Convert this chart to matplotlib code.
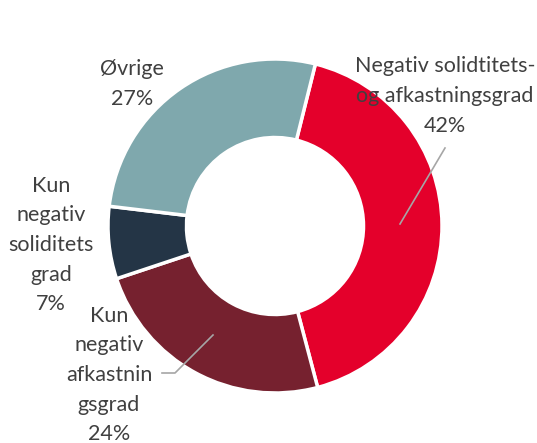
import matplotlib.pyplot as plt

# Andele af virksomheder
labels = ["Negativ solidtitets-\nog afkastningsgrad\n42%",
          "Kun\nnegativ\nafkastnin\ngsgrad\n24%",
          "Kun\nnegativ\nsoliditets\ngrad\n7%",
          "Øvrige\n27%"]
values = [42, 24, 7, 27]
colors = ["#E4002B", "#76212F", "#243546", "#7FA8AD"]

plt.rcParams['font.family'] = ['Lato', 'DejaVu Sans']

fig = plt.figure(figsize=(5.37, 4.43), dpi=100)
ax = fig.add_axes([0, 0, 1, 1])

H = 443
cx, cy, r = 275, H - 226, 167
ax.pie(values, colors=colors, startangle=76, counterclock=False,
       center=(cx, cy), radius=r, frame=True,
       wedgeprops=dict(width=r * 0.47, edgecolor='white', linewidth=2.5))
ax.set_xlim(0, 537)
ax.set_ylim(0, 443)
ax.axis('off')

txt = dict(fontsize=15.5, color='#404040', ha='center', va='center', linespacing=1.6)
ax.text(445, H - 96, labels[0], **txt)
ax.text(109, H - 375, labels[1], **txt)
ax.text(51, H - 245, labels[2], **txt)
ax.text(132, H - 84, labels[3], **txt)

# Ledelinjer
ax.plot([445, 400], [H - 148, H - 224], color='#A6A6A6', lw=1.2)
ax.plot([162, 175, 213], [H - 373, H - 373, H - 335], color='#A6A6A6', lw=1.2)

fig.savefig("out.png", dpi=100)
